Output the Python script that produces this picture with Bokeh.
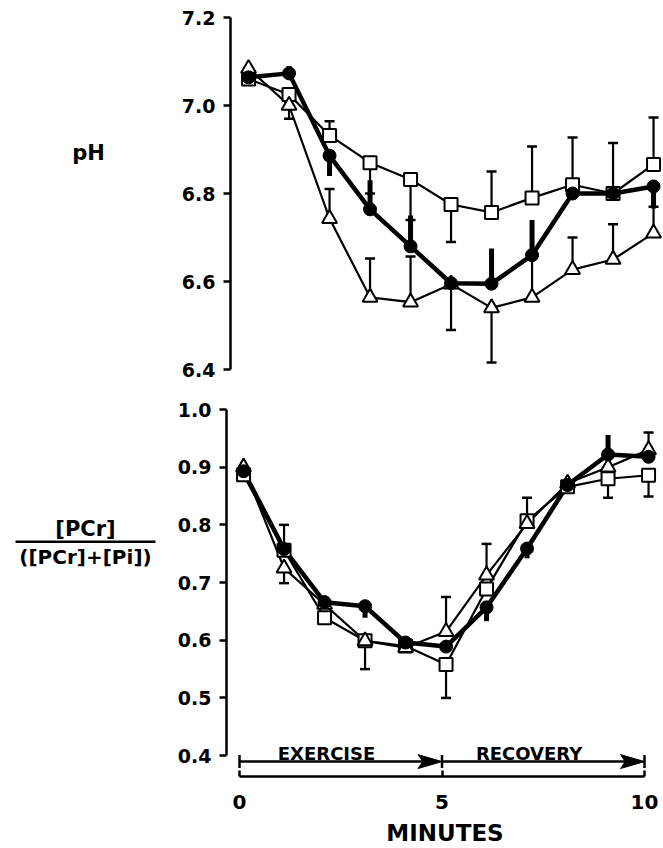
import math
from bokeh.plotting import figure
from bokeh.layouts import column, row
from bokeh.models import FixedTicker, Range1d, PrintfTickFormatter
from bokeh.embed import file_html
from bokeh.resources import INLINE
from bokeh.core.properties import value

# ---------------- data ----------------
minutes = [0.1, 1.1, 2.1, 3.1, 4.1, 5.1, 6.1, 7.1, 8.1, 9.1, 10.1]

ph_square = [7.06, 7.025, 6.932, 6.87, 6.832, 6.775, 6.757, 6.79, 6.82, 6.80, 6.866]
ph_square_err = [None, None, 6.964, 6.80, 6.74, 6.69, 6.85, 6.907, 6.927, 6.915, 6.973]
ph_circle = [7.064, 7.073, 6.886, 6.764, 6.68, 6.596, 6.595, 6.66, 6.80, 6.80, 6.816]
ph_circle_err = [None, 7.09, 6.84, 6.83, 6.75, None, 6.675, 6.74, None, None, 6.766]
ph_triangle = [7.084, 7.0, 6.743, 6.564, 6.553, 6.594, 6.54, 6.564, 6.627, 6.65, 6.71]
ph_triangle_err = [None, 6.97, 6.81, 6.652, 6.657, 6.49, 6.416, 6.66, 6.70, 6.73, 6.77]

ratio_square = [0.887, 0.756, 0.639, 0.599, 0.59, 0.558, 0.689, 0.807, 0.866, 0.88, 0.886]
ratio_square_err = [None, 0.80, None, None, None, 0.50, None, 0.847, None, 0.847, 0.849]
ratio_circle = [0.893, 0.758, 0.666, 0.659, 0.596, 0.589, 0.657, 0.759, 0.869, 0.922, 0.918]
ratio_circle_err = [None, None, None, 0.639, None, None, 0.633, 0.742, None, 0.956, None]
ratio_triangle = [0.90, 0.725, 0.662, 0.599, 0.587, 0.615, 0.713, 0.802, 0.872, 0.90, 0.93]
ratio_triangle_err = [None, 0.699, None, 0.55, None, 0.675, 0.767, None, None, None, 0.96]

ph_ticks = [6.4, 6.6, 6.8, 7.0, 7.2]
ratio_ticks = [0.4, 0.5, 0.6, 0.7, 0.8, 0.9, 1.0]
minute_ticks = [0, 5, 10]

phase_labels = ["EXERCISE", "RECOVERY"]
phase_start = [0, 5]
phase_end = [5, 10]

ph_label = "pH"
ratio_label_num = "[PCr]"
ratio_label_den = "([PCr]+[Pi])"

FONT = "DejaVu Sans"
LABW = 160          # width of the left label strip
MAINW = 663 - LABW  # width of the plotting figure
PX = 40.5           # px per minute


def label_fig(height):
    f = figure(width=LABW, height=height, x_range=Range1d(0, LABW), y_range=Range1d(height, 0),
               output_backend="svg", toolbar_location=None,
               x_axis_location=None, y_axis_location=None,
               min_border_left=0, min_border_right=0, min_border_top=0, min_border_bottom=0)
    f.outline_line_color = None
    f.grid.visible = False
    return f


def base_fig(height, border_left, border_top, border_bottom, xr, yr, ticks):
    p = figure(width=MAINW, height=height, x_range=xr, y_range=yr,
               output_backend="svg", toolbar_location=None,
               min_border_left=border_left, min_border_right=0,
               min_border_top=border_top, min_border_bottom=border_bottom)
    p.outline_line_color = None
    p.grid.visible = False
    ya = p.yaxis[0]
    ya.ticker = FixedTicker(ticks=ticks)
    ya.formatter = PrintfTickFormatter(format="%.1f")
    ya.bounds = (ticks[0], ticks[-1])
    ya.axis_line_width = 2.5
    ya.major_tick_line_width = 2.5
    ya.major_tick_out = 7
    ya.major_tick_in = 0
    ya.minor_tick_line_color = None
    ya.major_label_text_font = FONT
    ya.major_label_text_font_style = "bold"
    ya.major_label_text_font_size = "19px"
    ya.major_label_text_color = "black"
    ya.major_label_standoff = 8
    return p


def draw_series(p, x, sq, sq_err, ci, ci_err, tr, tr_err):
    p.line(x, sq, line_color="black", line_width=2.2)
    p.line(x, tr, line_color="black", line_width=2.2)
    p.line(x, ci, line_color="black", line_width=4.5)
    for vals, errs in ((sq, sq_err), (tr, tr_err)):
        idx = [i for i in range(len(x)) if errs[i] is not None]
        xs = [x[i] for i in idx]
        y0 = [vals[i] for i in idx]
        y1 = [errs[i] for i in idx]
        p.segment(xs, y0, xs, y1, line_color="black", line_width=2.2)
        p.scatter(xs, y1, marker="dash", size=10, line_color="black", line_width=2.5)
    idx = [i for i in range(len(x)) if ci_err[i] is not None]
    p.segment([x[i] for i in idx], [ci[i] for i in idx], [x[i] for i in idx], [ci_err[i] for i in idx],
              line_color="black", line_width=5)
    p.scatter(x, sq, marker="square", size=13, fill_color="white", line_color="black", line_width=2)
    p.scatter(x, tr, marker="triangle", size=15, fill_color="white", line_color="black", line_width=2)
    p.scatter(x, ci, marker="circle", size=13, fill_color="black", line_color="black", line_width=1)


# ---------------- top panel (pH) ----------------
TOP_H = 385
top_left = 230 - LABW
top_x0 = -14 / PX
top = base_fig(TOP_H, top_left, 17, 16,
               Range1d(top_x0, top_x0 + (MAINW - top_left) / PX),
               Range1d(6.4, 7.2), ph_ticks)
top.xaxis.visible = False
draw_series(top, minutes, ph_square, ph_square_err, ph_circle, ph_circle_err,
            ph_triangle, ph_triangle_err)

top_lab = label_fig(TOP_H)
top_lab.text(x=[88], y=[148], text=[ph_label], text_font=value(FONT), text_font_style="bold",
             text_font_size="21px", text_align="center", text_baseline="middle", text_color="black")

# ---------------- bottom panel (PCr ratio) ----------------
BOT_H = 463
bot_left = 226 - LABW
bot_x0 = -13 / PX
ppu = 580.0  # px per unit ratio
y_lo = 1.0 - 369 / ppu
bot = base_fig(BOT_H, bot_left, 24, BOT_H - 24 - 369,
               Range1d(bot_x0, bot_x0 + (MAINW - bot_left) / PX),
               Range1d(y_lo, 1.0), ratio_ticks)
xa = bot.xaxis[0]
xa.ticker = FixedTicker(ticks=minute_ticks)
xa.bounds = (minute_ticks[0], minute_ticks[-1])
xa.axis_line_width = 2.5
xa.major_tick_line_width = 2.5
xa.major_tick_in = 6
xa.major_tick_out = 0
xa.minor_tick_line_color = None
xa.major_label_text_font = FONT
xa.major_label_text_font_style = "bold"
xa.major_label_text_font_size = "20px"
xa.major_label_text_color = "black"
xa.major_label_standoff = 18
xa.axis_label = "MINUTES"
xa.axis_label_text_font = FONT
xa.axis_label_text_font_style = "bold"
xa.axis_label_text_font_size = "23px"
xa.axis_label_text_color = "black"
xa.axis_label_standoff = 8

draw_series(bot, minutes, ratio_square, ratio_square_err, ratio_circle, ratio_circle_err,
            ratio_triangle, ratio_triangle_err)

# phase arrows: shaft, long narrow filled head, vertical end ticks
arrow_y = 0.4 - 6 / ppu
head_len = 24 / PX
head_half = 7 / ppu
bot.segment(x0=phase_start, y0=[arrow_y] * 2, x1=[e - head_len * 0.5 for e in phase_end], y1=[arrow_y] * 2,
            line_color="black", line_width=2.5)
bot.patches(xs=[[e - head_len, e, e - head_len, e - head_len * 0.8] for e in phase_end],
            ys=[[arrow_y + head_half, arrow_y, arrow_y - head_half, arrow_y] for _ in phase_end],
            fill_color="black", line_color="black", line_width=1)
bot.scatter(phase_start + [phase_end[-1]], [arrow_y] * 3, marker="dash", angle=math.pi / 2,
            size=13, line_color="black", line_width=2.5)
bot.text(x=[s + 0.44 * (e - s) - 0.05 for s, e in zip(phase_start, phase_end)],
         y=[0.4 + 2 / ppu] * 2, text=phase_labels,
         text_font=value(FONT), text_font_style="bold", text_font_size="18px",
         text_align="center", text_baseline="alphabetic", text_color="black")

bot_lab = label_fig(BOT_H)
bot_lab.text(x=[85], y=[151], text=[ratio_label_num], text_font=value(FONT), text_font_style="bold",
             text_font_size="21px", text_align="center", text_baseline="middle", text_color="black")
bot_lab.text(x=[85], y=[186], text=[ratio_label_den], text_font=value(FONT), text_font_style="bold",
             text_font_size="20px", text_align="center", text_baseline="middle", text_color="black")
bot_lab.segment(x0=[15], y0=[167], x1=[155], y1=[167], line_color="black", line_width=2.5)

layout = column(row(top_lab, top, spacing=0), row(bot_lab, bot, spacing=0), spacing=0)
open("out.html", "w").write(file_html(layout, INLINE))
